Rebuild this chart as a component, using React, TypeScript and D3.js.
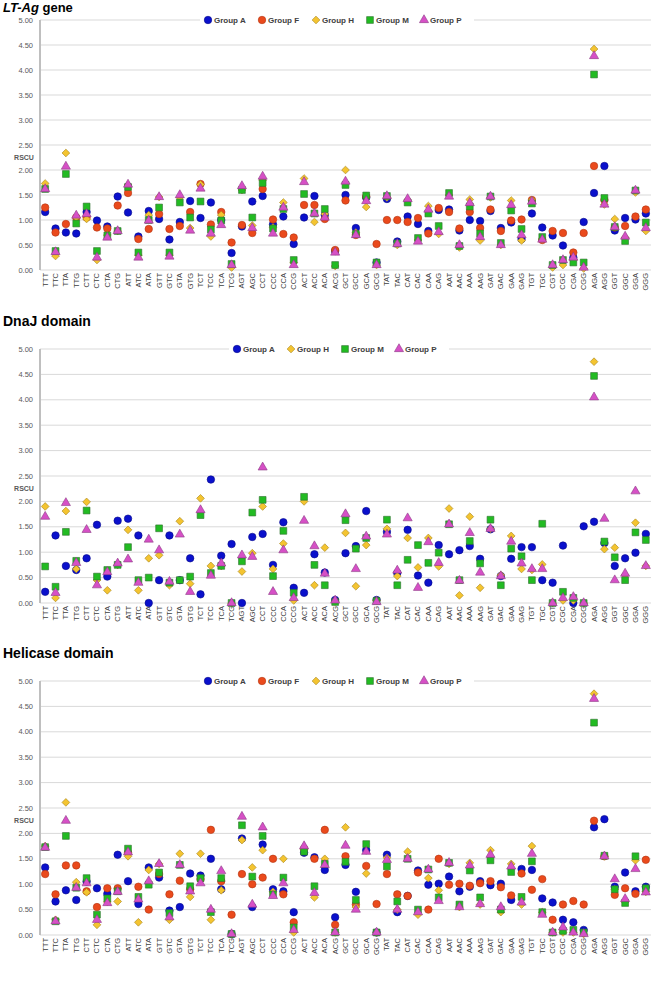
import React from 'react';
import * as d3 from 'd3';

const codons = ['TTT', 'TTC', 'TTA', 'TTG', 'CTT', 'CTC', 'CTA', 'CTG', 'ATT', 'ATC', 'ATA', 'GTT', 'GTC', 'GTA', 'GTG',
    'TCT', 'TCC', 'TCA', 'TCG', 'AGT', 'AGC', 'CCT', 'CCC', 'CCA', 'CCG', 'ACT', 'ACC', 'ACA', 'ACG', 'GCT', 'GCC', 'GCA', 'GCG',
    'TAT', 'TAC', 'CAT', 'CAC', 'CAA', 'CAG', 'AAT', 'AAC', 'AAA', 'AAG', 'GAT', 'GAC', 'GAA', 'GAG', 'TGT', 'TGC',
    'CGT', 'CGC', 'CGA', 'CGG', 'AGA', 'AGG', 'GGT', 'GGC', 'GGA', 'GGG'];

const yTicks = [0, 0.5, 1, 1.5, 2, 2.5, 3, 3.5, 4, 4.5, 5];

// LT-Ag gene
const ltA = [1.16, 0.83, 0.75, 0.73, 1.16, 0.99, 0.87, 1.47, 1.15, 0.67, 1.18, 1.02, 0.61, 0.96, 1.38,
    1.04, 1.35, 1.00, 0.34, 0.87, 1.37, 1.48, 0.91, 1.07, 0.52, 1.05, 1.48, 1.10, 0.38, 1.50, 0.84, 1.45, 0.15,
    1.42, 0.57, 1.07, 0.92, 0.78, 1.20, 1.21, 0.79, 1.00, 0.98, 1.18, 0.84, 0.95, 0.62, 1.13, 0.85,
    0.69, 0.49, 0.25, 0.96, 1.54, 2.08, 0.79, 1.04, 1.01, 1.13];
const ltF = [1.25, 0.75, 0.92, 1.05, 1.05, 0.85, 0.83, 1.29, 1.54, 0.62, 0.82, 1.12, 0.82, 0.88, 1.16,
    1.72, 0.91, 1.16, 0.55, 0.90, 0.74, 1.62, 1.01, 0.72, 0.65, 1.30, 1.30, 1.02, 0.40, 1.39, 0.70, 1.47, 0.52,
    1.00, 1.00, 0.96, 1.04, 0.73, 1.24, 1.16, 0.83, 1.16, 0.84, 1.21, 0.78, 0.99, 1.01, 1.40, 0.60,
    0.78, 0.74, 0.35, 0.74, 2.08, 1.40, 0.85, 0.88, 1.07, 1.21];
const ltH = [1.73, 0.28, 2.34, 1.05, 1.02, 0.20, 0.70, 0.78, 1.70, 0.30, 1.10, 1.46, 0.30, 1.45, 0.84,
    1.71, 0.67, 1.10, 0.05, 1.60, 0.89, 1.80, 0.85, 1.35, 0.15, 1.83, 0.96, 1.12, 0.08, 2.00, 0.75, 1.26, 0.10,
    1.45, 0.50, 1.40, 0.60, 1.28, 0.72, 1.50, 0.45, 1.41, 0.59, 1.45, 0.50, 1.39, 0.59, 1.40, 0.62,
    0.05, 0.10, 0.20, 0.03, 4.42, 1.31, 1.02, 0.65, 1.55, 0.78];
const ltM = [1.62, 0.38, 1.92, 0.93, 1.27, 0.38, 0.69, 0.78, 1.66, 0.35, 1.00, 1.25, 0.35, 1.35, 1.05,
    1.37, 0.81, 0.99, 0.12, 1.60, 1.05, 1.74, 0.83, 1.22, 0.20, 1.52, 1.13, 1.22, 0.10, 1.70, 0.72, 1.49, 0.15,
    1.48, 0.53, 1.35, 0.64, 1.13, 0.88, 1.54, 0.48, 1.27, 0.73, 1.47, 0.54, 1.19, 0.82, 1.33, 0.66,
    0.10, 0.20, 0.15, 0.15, 3.91, 1.44, 0.86, 0.58, 1.59, 0.95];
const ltP = [1.62, 0.36, 2.07, 1.09, 1.12, 0.25, 0.65, 0.78, 1.71, 0.25, 0.99, 1.46, 0.27, 1.50, 0.79,
    1.63, 0.73, 0.90, 0.10, 1.68, 0.84, 1.87, 0.73, 1.25, 0.10, 1.76, 1.13, 1.05, 0.35, 1.77, 0.70, 1.38, 0.10,
    1.48, 0.52, 1.42, 0.57, 1.21, 0.76, 1.47, 0.50, 1.34, 0.66, 1.47, 0.50, 1.30, 0.70, 1.37, 0.61,
    0.10, 0.20, 0.25, 0.05, 4.28, 1.31, 0.86, 0.67, 1.59, 0.84];

// DnaJ domain
const djA = [0.22, 1.33, 0.73, 0.65, 0.88, 1.54, 0.52, 1.62, 1.66, 1.33, 0.00, 0.45, 1.33, 0.45, 0.88,
    0.17, 2.43, 0.93, 1.16, 0.00, 1.30, 1.36, 0.75, 1.59, 0.30, 0.20, 0.96, 0.60, 0.06, 0.98, 1.12, 1.81, 0.06,
    1.40, 0.59, 1.44, 0.54, 0.40, 1.14, 0.96, 1.04, 1.12, 0.87, 1.45, 0.53, 0.87, 1.10, 1.10, 0.45,
    0.40, 1.13, 0.00, 1.51, 1.60, 1.18, 0.73, 0.88, 0.99, 1.36];
const djH = [1.90, 0.10, 1.81, 0.67, 1.99, 0.45, 0.25, 0.75, 1.44, 0.25, 0.88, 0.94, 0.35, 1.61, 0.38,
    2.06, 0.73, 0.73, 0.00, 0.62, 0.98, 1.90, 0.67, 1.17, 0.05, 2.00, 0.35, 1.09, 0.03, 1.38, 0.33, 1.14, 0.05,
    1.46, 0.53, 1.28, 0.70, 1.28, 0.72, 1.86, 0.15, 1.70, 0.30, 1.46, 0.55, 1.32, 0.67, 0.65, 0.76,
    0.00, 0.05, 0.05, 0.00, 4.75, 1.06, 1.09, 0.55, 1.58, 0.73];
const djM = [0.72, 0.32, 1.40, 0.83, 1.82, 0.52, 0.65, 0.75, 1.10, 0.45, 0.50, 1.47, 0.40, 0.45, 0.52,
    1.73, 0.59, 0.73, 0.00, 0.82, 1.78, 2.03, 0.53, 1.42, 0.20, 2.09, 0.75, 0.35, 0.02, 1.63, 1.07, 1.28, 0.04,
    1.64, 0.35, 0.85, 1.14, 0.79, 0.99, 1.55, 0.45, 1.22, 0.78, 1.64, 0.35, 1.07, 0.92, 0.45, 1.56,
    0.00, 0.22, 0.10, 0.00, 4.47, 1.21, 0.90, 0.45, 1.39, 1.24];
const djP = [1.70, 0.20, 1.97, 0.79, 1.44, 0.35, 0.61, 0.78, 0.86, 0.40, 1.25, 1.04, 0.42, 1.35, 0.22,
    1.83, 0.54, 0.78, 0.00, 0.94, 0.91, 2.67, 0.22, 1.04, 0.10, 1.62, 1.12, 0.58, 0.05, 1.75, 0.67, 1.31, 0.02,
    1.35, 0.64, 1.67, 0.30, 1.20, 0.79, 1.55, 0.44, 1.38, 0.60, 1.46, 0.53, 1.21, 0.78, 0.67, 0.67,
    0.00, 0.10, 0.12, 0.00, 4.05, 1.66, 0.45, 0.58, 2.20, 0.73];

// Helicase domain
const heA = [1.33, 0.66, 0.88, 0.69, 1.05, 0.92, 0.81, 1.58, 1.06, 0.61, 1.33, 1.13, 0.48, 0.55, 1.21,
    1.17, 1.50, 0.90, 0.02, 1.90, 0.55, 1.78, 0.90, 0.86, 0.45, 1.62, 1.53, 1.28, 0.35, 1.38, 0.85, 1.67, 0.05,
    1.58, 0.45, 0.77, 1.27, 0.99, 1.01, 1.15, 0.86, 0.95, 1.06, 0.98, 1.01, 0.69, 1.30, 1.28, 0.72,
    0.64, 0.30, 0.25, 0.10, 2.12, 2.28, 0.95, 1.23, 0.86, 0.95];
const heF = [1.20, 0.80, 1.37, 1.37, 0.86, 0.55, 0.92, 0.92, 1.62, 0.95, 0.50, 1.20, 0.80, 1.07, 0.90,
    1.10, 2.07, 1.06, 0.40, 1.20, 1.00, 1.13, 1.50, 0.80, 0.25, 1.70, 1.50, 2.07, 0.20, 1.55, 0.60, 1.36, 0.61,
    1.20, 0.80, 0.77, 1.23, 0.50, 1.50, 0.99, 1.01, 0.97, 1.02, 1.06, 0.94, 0.78, 1.21, 0.89, 1.10,
    0.30, 0.60, 0.67, 0.60, 2.25, 1.55, 0.79, 0.92, 0.81, 1.48];
const heH = [1.75, 0.30, 2.61, 1.04, 0.84, 0.20, 0.65, 0.66, 1.55, 0.25, 1.28, 1.40, 0.30, 1.60, 0.75,
    1.60, 0.30, 0.88, 0.02, 1.87, 1.33, 1.67, 0.85, 1.50, 0.05, 1.68, 0.74, 1.50, 0.05, 2.12, 0.55, 1.21, 0.05,
    1.52, 0.50, 1.64, 0.40, 1.12, 0.88, 1.40, 0.55, 1.42, 0.60, 1.67, 0.45, 1.40, 0.60, 1.75, 0.45,
    0.05, 0.05, 0.05, 0.02, 4.75, 1.55, 0.90, 0.65, 1.47, 0.85];
const heM = [1.73, 0.27, 1.95, 0.93, 1.12, 0.40, 0.72, 0.86, 1.70, 0.75, 0.99, 1.23, 0.43, 1.38, 0.96,
    1.12, 0.45, 1.12, 0.02, 2.16, 1.15, 1.95, 0.80, 1.13, 0.15, 1.64, 0.96, 1.40, 0.05, 1.44, 0.69, 1.79, 0.05,
    1.35, 0.66, 1.50, 0.50, 1.29, 0.74, 1.42, 0.60, 1.27, 0.74, 1.47, 0.50, 1.24, 0.75, 1.45, 0.45,
    0.05, 0.08, 0.10, 0.05, 4.18, 1.56, 0.90, 0.63, 1.55, 0.92];
const heP = [1.72, 0.27, 2.25, 0.93, 1.02, 0.30, 0.63, 0.85, 1.63, 0.70, 1.06, 1.40, 0.35, 1.38, 0.86,
    1.02, 0.50, 1.26, 0.02, 2.33, 0.60, 2.12, 0.77, 1.02, 0.10, 1.75, 0.83, 1.38, 0.05, 1.76, 0.50, 1.64, 0.05,
    1.48, 0.50, 1.50, 0.45, 1.29, 0.67, 1.42, 0.55, 1.37, 0.61, 1.58, 0.55, 1.35, 0.64, 1.60, 0.40,
    0.05, 0.15, 0.05, 0.02, 4.65, 1.55, 1.10, 0.71, 1.30, 0.84];

type GroupKey = 'A' | 'F' | 'H' | 'M' | 'P';

const groupStyle: Record<GroupKey, { fill: string; stroke: string; shape: string }> = {
    A: { fill: '#0a10cc', stroke: '#06088a', shape: 'circle' },
    F: { fill: '#ea4a1c', stroke: '#b23410', shape: 'circle' },
    H: { fill: '#f4c430', stroke: '#a8861c', shape: 'diamond' },
    M: { fill: '#22bb22', stroke: '#2f6f2f', shape: 'square' },
    P: { fill: '#d650c6', stroke: '#8c3a84', shape: 'triangle' },
};

const symbolPath = (shape: string) => {
    if (shape === 'circle') return d3.symbol().type(d3.symbolCircle).size(44)()!;
    if (shape === 'square') return d3.symbol().type(d3.symbolSquare).size(46)()!;
    if (shape === 'diamond') return d3.symbol().type(d3.symbolSquare).size(30)()!;
    return d3.symbol().type(d3.symbolTriangle).size(36)()!;
};

const font = '"Liberation Sans", Arial, sans-serif';

interface PanelProps {
    title: React.ReactNode;
    titleY: number;
    titleSize: number;
    top: number;
    height: number;
    series: { key: GroupKey; values: number[] }[];
    legendLeft: number;
}

function Panel({ title, titleY, titleSize, top, height, series, legendLeft }: PanelProps) {
    const left = 40;
    const right = 651;

    const x = d3.scaleBand().domain(codons).range([left, right]);
    const y = d3.scaleLinear().domain([0, 5]).range([top + height, top]);

    return (
        <g>
            {/* grid */}
            {yTicks.map(t => (
                <g key={t}>
                    <line x1={left} x2={right} y1={y(t)} y2={y(t)} stroke="#d9d9d9" strokeWidth={1} />
                    <text x={33} y={y(t) + 2.5} textAnchor="end" fontSize={7.5} fontFamily={font} fill="#595959">{t.toFixed(2)}</text>
                </g>
            ))}
            <line x1={left} x2={left} y1={top} y2={top + height} stroke="#bfbfbf" strokeWidth={2} />
            <text x={24} y={y(2.2)} textAnchor="middle" fontSize={7} fontWeight="bold" fontFamily={font} fill="#595959">RSCU</text>
            {/* x labels */}
            {codons.map(c => {
                const cx = x(c)! + x.bandwidth() / 2;
                return (
                    <text key={c} transform={`translate(${cx + 2.5},${top + height + 3}) rotate(-90)`} textAnchor="end"
                        fontSize={7.5} fontFamily={font} fill="#404040">{c}</text>
                );
            })}
            {/* legend */}
            <rect x={legendLeft - 8} y={top - 5} width={series.length * 54 + 4} height={10} fill="#fff" />
            {series.map((s, i) => {
                const st = groupStyle[s.key];
                const lx = legendLeft + i * 54;
                return (
                    <g key={s.key}>
                        <path d={symbolPath(st.shape)} transform={`translate(${lx},${top})${st.shape === 'diamond' ? ' rotate(45)' : ''}`}
                            fill={st.fill} stroke={st.stroke} strokeWidth={0.6} />
                        <text x={lx + 6} y={top + 3} fontSize={8} fontWeight="bold" fontFamily={font} fill="#404040">Group {s.key}</text>
                    </g>
                );
            })}
            {/* points */}
            {series.map(s => {
                const st = groupStyle[s.key];
                const path = symbolPath(st.shape);
                return (
                    <g key={s.key}>
                        {s.values.map((v, i) => {
                            const cx = x(codons[i])! + x.bandwidth() / 2;
                            return (
                                <path key={i} d={path}
                                    transform={`translate(${cx},${y(v)})${st.shape === 'diamond' ? ' rotate(45)' : ''}`}
                                    fill={st.fill} stroke={st.stroke} strokeWidth={0.6} />
                            );
                        })}
                    </g>
                );
            })}
            <text x={3} y={titleY} fontSize={titleSize} fontWeight="bold" fontFamily={font} fill="#000">{title}</text>
        </g>
    );
}

export default function App() {
    return (
        <div style={{ position: 'absolute', left: 0, top: 0 }}>
            <svg width={654} height={991} style={{ display: 'block', background: '#fff' }}>
                <Panel
                    title={<><tspan fontStyle="italic">LT-Ag</tspan> gene</>}
                    titleY={12}
                    titleSize={13}
                    top={20}
                    height={250}
                    legendLeft={208}
                    series={[
                        { key: 'A', values: ltA },
                        { key: 'F', values: ltF },
                        { key: 'H', values: ltH },
                        { key: 'M', values: ltM },
                        { key: 'P', values: ltP },
                    ]}
                />
                <Panel
                    title="DnaJ domain"
                    titleY={326}
                    titleSize={14}
                    top={349}
                    height={254}
                    legendLeft={237}
                    series={[
                        { key: 'A', values: djA },
                        { key: 'H', values: djH },
                        { key: 'M', values: djM },
                        { key: 'P', values: djP },
                    ]}
                />
                <Panel
                    title="Helicase domain"
                    titleY={658}
                    titleSize={14}
                    top={681}
                    height={254}
                    legendLeft={208}
                    series={[
                        { key: 'A', values: heA },
                        { key: 'F', values: heF },
                        { key: 'H', values: heH },
                        { key: 'M', values: heM },
                        { key: 'P', values: heP },
                    ]}
                />
            </svg>
        </div>
    );
}
